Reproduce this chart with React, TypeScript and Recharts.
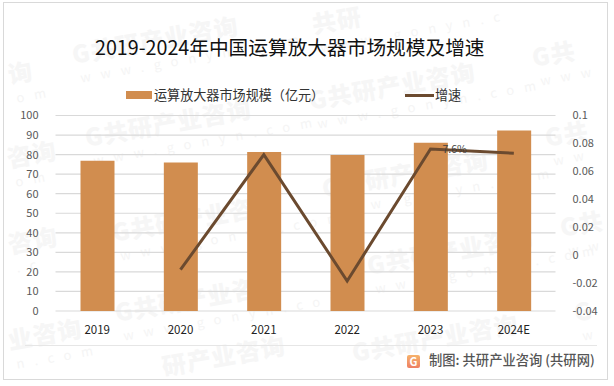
import {
  Bar,
  CartesianGrid,
  ComposedChart,
  LabelList,
  Legend,
  Line,
  XAxis,
  YAxis,
} from 'recharts';

const years = ['2019', '2020', '2021', '2022', '2023', '2024E'];
const marketSize = [76.8, 76, 81.3, 79.8, 86, 92.3];
const growth = [null, -0.0104, 0.072, -0.0185, 0.076, 0.073];
const growthLabels = ['', '', '', '', '7.6%', ''];
const leftTicks = [0, 10, 20, 30, 40, 50, 60, 70, 80, 90, 100];
const rightTicks = [-0.04, -0.02, 0, 0.02, 0.04, 0.06, 0.08, 0.1];

const data = years.map((year, i) => ({
  year,
  size: marketSize[i],
  growth: growth[i],
  label: growthLabels[i],
}));

const FONT = '"Noto Sans CJK SC", "Noto Sans", sans-serif';
const BAR_COLOR = '#d18d4f';
const LINE_COLOR = '#6b4a2f';

// faint site watermark behind the chart; those at the edges only show the part that fits
const marks: Array<[number, number, string, string]> = [
  [70, 42, 'G共研产业咨询', 'www.gonyn.com'],
  [83, 125, 'G共研产业咨询', 'www.gonyn.com'],
  [307, 88, 'G共研产业咨询', 'www.gonyn.com'],
  [320, 176, 'G共研产业咨询', 'www.gonyn.com'],
  [110, 220, 'G共研产业咨询', 'www.gonyn.com'],
  [365, 253, 'G共研产业咨询', 'www.gonyn.com'],
  [113, 300, 'G共研产业咨询', 'www.gonyn.com'],
  [350, 340, 'G共研产业咨询', ''],
  [160, 354, '研产业咨询', ''],
  [530, 45, 'G共', 'www'],
  [543, 125, 'G共', 'ww'],
  [558, 215, 'G共', 'ww'],
  [572, 300, 'G', 'w'],
  [310, 12, '共研', 'www.gonyn.c'],
  [6, 62, '询', 'om'],
  [5, 146, '咨询', 'om'],
  [6, 232, '咨询', '.c'],
  [6, 328, '业咨询', 'n.com'],
];

function Watermark({ x, y, title, sub }: { x: number; y: number; title: string; sub: string }) {
  return (
    <div
      style={{
        position: 'absolute',
        left: x,
        top: y,
        transform: 'rotate(-10deg)',
        transformOrigin: 'left top',
        whiteSpace: 'nowrap',
        fontFamily: FONT,
        lineHeight: 1,
      }}
    >
      <div style={{ fontSize: 24, fontWeight: 900, letterSpacing: 1, color: '#f6f6f6' }}>{title}</div>
      <div style={{ fontSize: 13, letterSpacing: 10, marginTop: 6, marginLeft: 4, color: '#f5f5f5' }}>{sub}</div>
    </div>
  );
}

function LegendContent() {
  const text = { fontSize: 13.1, lineHeight: '18px', color: '#333', fontFamily: FONT, whiteSpace: 'nowrap' as const };
  return (
    <div style={{ position: 'relative', height: 20 }}>
      <div style={{ position: 'absolute', left: 126, top: 5, width: 26, height: 8, background: BAR_COLOR }} />
      <div style={{ position: 'absolute', left: 154, top: 0, ...text }}>运算放大器市场规模（亿元）</div>
      <div style={{ position: 'absolute', left: 405, top: 8, width: 29, height: 3, background: LINE_COLOR }} />
      <div style={{ position: 'absolute', left: 435, top: 0, ...text }}>增速</div>
    </div>
  );
}

export default function App() {
  return (
    <div
      style={{
        position: 'absolute',
        left: 0,
        top: 0,
        width: 614,
        height: 386,
        background: '#fff',
        overflow: 'hidden',
        fontFamily: FONT,
      }}
    >
      {marks.map(([x, y, title, sub], i) => (
        <Watermark key={i} x={x} y={y} title={title} sub={sub} />
      ))}
      <div
        style={{
          position: 'absolute',
          left: 3,
          top: 2,
          width: 605,
          height: 378,
          boxSizing: 'border-box',
          border: '1.5px solid #d9d9d9',
        }}
      />
      <div
        style={{
          position: 'absolute',
          left: 95,
          top: 35,
          whiteSpace: 'nowrap',
          fontSize: 19.7,
          lineHeight: '24px',
          color: '#111',
        }}
      >
        2019-2024年中国运算放大器市场规模及增速
      </div>
      <div style={{ position: 'absolute', left: 0, top: 0 }}>
        <ComposedChart
          width={614}
          height={386}
          data={data}
          margin={{ top: 95.5, right: 0, bottom: 0, left: 0 }}
        >
          <CartesianGrid stroke="#d9d9d9" strokeWidth={1.2} vertical={false} yAxisId="left" />
          <XAxis
            dataKey="year"
            height={75}
            axisLine={false}
            tickLine={false}
            tickMargin={9}
            interval={0}
            tick={{ fontSize: 11.5, fill: '#222', fontFamily: FONT }}
          />
          <YAxis
            yAxisId="left"
            width={55.5}
            domain={[0, 100]}
            ticks={leftTicks}
            interval={0}
            axisLine={false}
            tickLine={false}
            tickMargin={11}
            tick={{ fontSize: 11, fill: '#595959', fontFamily: FONT }}
          />
          <YAxis
            yAxisId="right"
            orientation="right"
            width={58.5}
            domain={[-0.04, 0.1]}
            ticks={rightTicks}
            interval={0}
            axisLine={false}
            tickLine={false}
            tickMargin={11}
            tick={{ fontSize: 11, fill: '#595959', fontFamily: FONT }}
          />
          <Legend
            verticalAlign="top"
            content={<LegendContent />}
            wrapperStyle={{ position: 'absolute', left: 0, top: 86, width: 614 }}
          />
          <Bar
            yAxisId="left"
            dataKey="size"
            name="运算放大器市场规模（亿元）"
            fill={BAR_COLOR}
            barSize={34}
            isAnimationActive={false}
          />
          <Line
            yAxisId="right"
            dataKey="growth"
            name="增速"
            stroke={LINE_COLOR}
            strokeWidth={3}
            dot={false}
            connectNulls={false}
            isAnimationActive={false}
          >
            <LabelList dataKey="label" position="right" offset={12} fontSize={10.5} fill="#404040" />
          </Line>
        </ComposedChart>
      </div>
      <div style={{ position: 'absolute', left: 25, top: 345, width: 572, height: 1, background: '#e6e6e6' }} />
      <div
        style={{
          position: 'absolute',
          left: 407,
          top: 355,
          width: 13,
          height: 13,
          borderRadius: 2,
          background: 'linear-gradient(180deg, #f6b26b, #ee7f63)',
          color: '#fff',
          fontSize: 11,
          fontWeight: 700,
          lineHeight: '13px',
          textAlign: 'center',
        }}
      >
        G
      </div>
      <div
        style={{
          position: 'absolute',
          left: 429,
          top: 351,
          fontSize: 13.3,
          lineHeight: '18px',
          color: '#555',
          fontWeight: 500,
          whiteSpace: 'nowrap',
        }}
      >
        制图: 共研产业咨询 (共研网)
      </div>
    </div>
  );
}
